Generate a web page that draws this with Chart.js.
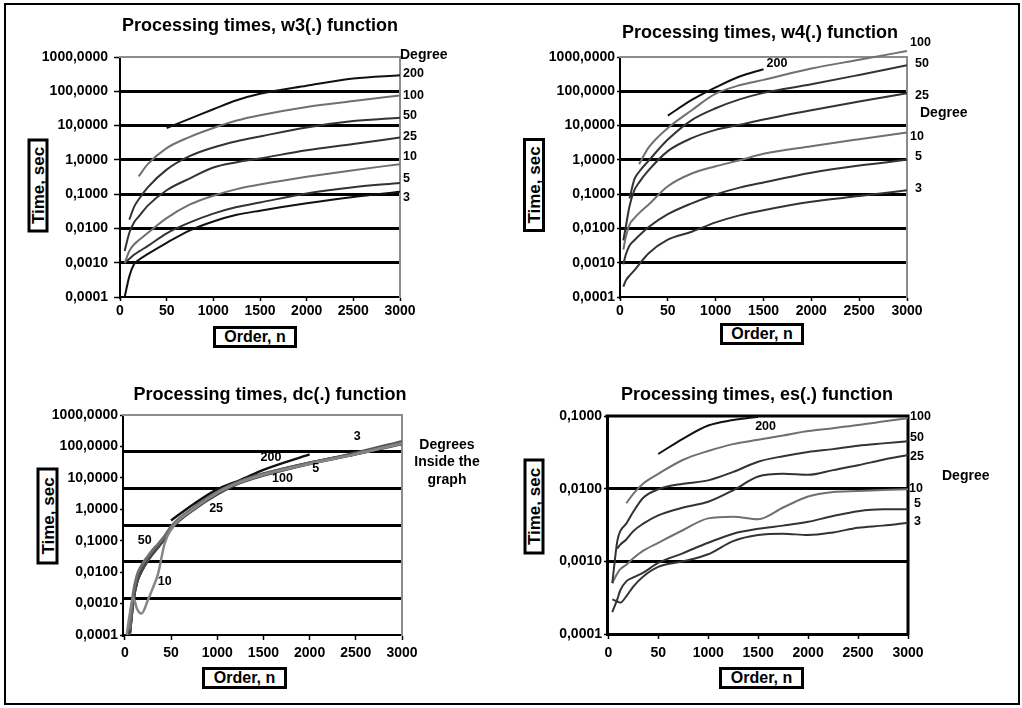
<!DOCTYPE html>
<html><head><meta charset="utf-8">
<script src="https://cdn.jsdelivr.net/npm/chart.js@4.4.1/dist/chart.umd.min.js"></script>
<style>
html,body{margin:0;padding:0;background:#fff;width:1022px;height:708px;overflow:hidden;}
#frame{position:absolute;left:4px;top:3px;width:1016px;height:702px;border:2.5px solid #000;box-sizing:border-box;}
canvas{position:absolute;}
.box{position:absolute;border:3px solid #000;box-sizing:border-box;background:#fff;font-family:'Liberation Sans',Arial,sans-serif;font-weight:bold;color:#000;display:flex;align-items:center;justify-content:center;white-space:nowrap;line-height:1;}
.rot{transform:rotate(-90deg);font-size:17px;}
.hor{font-size:16px;}
</style></head>
<body>
<div id="frame"></div>
<canvas id="c1" width="500" height="340" style="left:10px;top:10px"></canvas>
<canvas id="c2" width="500" height="340" style="left:510px;top:10px"></canvas>
<canvas id="c3" width="500" height="345" style="left:20px;top:355px"></canvas>
<canvas id="c4" width="500" height="345" style="left:507px;top:355px"></canvas>
<div class="box rot" style="left:-9px;top:175px;width:94px;height:21px">Time, sec</div>
<div class="box hor" style="left:213px;top:326px;width:84px;height:22px">Order, n</div>
<div class="box rot" style="left:487px;top:174px;width:94px;height:22px">Time, sec</div>
<div class="box hor" style="left:720px;top:323px;width:84px;height:22px">Order, n</div>
<div class="box rot" style="left:-1px;top:505px;width:97px;height:22px">Time, sec</div>
<div class="box hor" style="left:202px;top:667px;width:85px;height:22px">Order, n</div>
<div class="box rot" style="left:486px;top:496px;width:96px;height:21px">Time, sec</div>
<div class="box hor" style="left:719px;top:667px;width:85px;height:22px">Order, n</div>
<script>
// ---------- tick labels ----------
const xTickValues = [0, 500, 1000, 1500, 2000, 2500, 3000];
const xTickLabels = ['0', '50', '1000', '1500', '2000', '2500', '3000'];
const yDecadesWide = [0.0001, 0.001, 0.01, 0.1, 1, 10, 100, 1000];
const yLabelsWide = ['0,0001', '0,0010', '0,0100', '0,1000', '1,0000', '10,0000', '100,0000', '1000,0000'];
const yDecadesES = [0.0001, 0.001, 0.01, 0.1];
const yLabelsES = ['0,0001', '0,0010', '0,0100', '0,1000'];

// ---------- w3(.) ----------
const orderW3 = [50, 100, 150, 200, 300, 500, 750, 1000, 1250, 1500, 2000, 2500, 3000];
const w3Deg200 = [null, null, null, null, null, 8.5, 16, 30, 55, 85, 145, 235, 295];
const w3Deg100 = [null, null, null, 0.33, 0.76, 2.2, 4.7, 8.5, 14, 20, 35, 52, 76];
const w3Deg50 = [null, 0.018, 0.042, 0.07, 0.16, 0.52, 1.3, 2.3, 3.5, 4.8, 8.8, 13.5, 17];
const w3Deg25 = [0.0022, 0.0075, 0.015, 0.022, 0.047, 0.13, 0.29, 0.6, 0.85, 1.1, 1.9, 2.9, 4.5];
const w3Deg10 = [0.00098, 0.0022, 0.0034, 0.0045, 0.0075, 0.02, 0.05, 0.09, 0.14, 0.19, 0.32, 0.5, 0.75];
const w3Deg5 = [0.00098, 0.0013, 0.0017, 0.0021, 0.0031, 0.0072, 0.015, 0.027, 0.042, 0.057, 0.105, 0.16, 0.21];
const w3Deg3 = [0.0001, 0.0004, 0.0009, 0.0012, 0.0018, 0.0038, 0.0088, 0.016, 0.025, 0.033, 0.054, 0.083, 0.117];

// ---------- w4(.) ----------
const orderW4 = [35, 60, 100, 150, 200, 300, 500, 750, 1000, 1250, 1500, 2000, 2500, 3000];
const w4Deg200 = [null, null, null, null, null, null, 19.5, 56, 130, 270, 440, null, null, null];
const w4Deg100 = [null, null, null, null, 0.75, 2.3, 8.5, 28, 85, 150, 215, 460, 830, 1500];
const w4Deg50 = [null, null, 0.075, 0.27, 0.45, 0.95, 3.9, 14.5, 32, 58, 90, 160, 300, 575];
const w4Deg25 = [0.0045, 0.011, 0.045, 0.13, 0.22, 0.5, 1.8, 4.3, 7.5, 10.5, 15, 28, 50, 87];
const w4Deg10 = [0.0024, 0.0055, 0.013, 0.02, 0.028, 0.05, 0.17, 0.4, 0.65, 0.97, 1.5, 2.5, 4.0, 6.3];
const w4Deg5 = [0.0009, 0.0017, 0.0032, 0.0045, 0.0062, 0.011, 0.026, 0.054, 0.098, 0.155, 0.22, 0.42, 0.68, 1.0];
const w4Deg3 = [0.0002, 0.0003, 0.00042, 0.0006, 0.0009, 0.0019, 0.0047, 0.008, 0.015, 0.024, 0.034, 0.06, 0.088, 0.13];

// ---------- dc(.) ----------
const orderDC = [20, 50, 90, 130, 180, 250, 300, 360, 430, 500, 750, 1000, 1250, 1500, 2000, 2500, 3000];
const dcDeg3 = [null, 0.0001, 0.0012, 0.0048, 0.011, 0.024, 0.038, 0.063, 0.115, 0.24, 1.05, 3.3, 7.3, 12.5, 29, 62, 145];
const dcDeg5 = [null, 0.0001, 0.0013, 0.005, 0.011, 0.025, 0.04, 0.065, 0.12, 0.25, 1.1, 3.4, 7.5, 13, 30, 58, 120];
const dcDeg10 = [0.0001, 0.0004, 0.0016, 0.0007, 0.00048, 0.0013, 0.003, 0.009, 0.08, 0.23, 1.05, 3.3, 7.3, 12.5, 28, 57, 125];
const dcDeg25 = [null, 0.00012, 0.0014, 0.0052, 0.012, 0.026, 0.041, 0.066, 0.12, 0.25, 1.0, 3.0, 7.0, 12, 28, 57, 130];
const dcDeg50 = [null, 0.00015, 0.002, 0.0075, 0.016, 0.032, 0.05, 0.078, 0.14, 0.28, 1.15, 3.5, 7.6, 13, 29, 58, 128];
const dcDeg100 = [null, 0.0001, 0.0013, 0.005, 0.011, 0.025, 0.04, 0.065, 0.12, 0.26, 1.1, 3.5, 7.8, 13.5, 30, 59, 130];
const dcDeg200 = [null, null, null, null, null, null, null, null, null, 0.44, 1.5, 4.3, 8.5, 18, 56, null, null];

// ---------- es(.) ----------
const orderES = [40, 90, 120, 180, 250, 350, 500, 750, 1000, 1250, 1500, 1750, 2000, 2250, 2500, 2750, 3000];
const esDeg200 = [null, null, null, null, null, null, 0.030, 0.049, 0.074, 0.088, 0.098, null, null, null, null, null, null];
const esDeg100 = [null, null, null, 0.0063, 0.0085, 0.0118, 0.016, 0.025, 0.033, 0.041, 0.047, 0.054, 0.062, 0.068, 0.075, 0.084, 0.093];
const esDeg50 = [0.0005, 0.0019, 0.0026, 0.0033, 0.0048, 0.0075, 0.0098, 0.0117, 0.013, 0.017, 0.0235, 0.028, 0.032, 0.035, 0.039, 0.042, 0.045];
const esDeg25 = [null, 0.0015, 0.0017, 0.002, 0.0026, 0.0033, 0.0043, 0.0055, 0.0066, 0.0095, 0.0147, 0.016, 0.0155, 0.018, 0.021, 0.025, 0.029];
const esDeg10 = [0.0005, 0.00068, 0.00078, 0.0009, 0.0011, 0.0014, 0.0018, 0.0027, 0.0039, 0.0041, 0.0038, 0.0055, 0.0078, 0.009, 0.0093, 0.0096, 0.0098];
const esDeg5 = [0.0002, 0.0003, 0.0004, 0.00053, 0.0006, 0.0007, 0.00095, 0.0013, 0.0018, 0.0024, 0.0028, 0.0031, 0.0035, 0.0042, 0.0049, 0.0052, 0.0052];
const esDeg3 = [0.0003, 0.00028, 0.00027, 0.00033, 0.00045, 0.00062, 0.00084, 0.001, 0.00125, 0.0019, 0.0023, 0.0024, 0.0023, 0.0025, 0.0029, 0.0031, 0.0034];

// ---------- styling ----------
const FONT = "'Liberation Sans', Arial, sans-serif";
Chart.defaults.font.family = FONT;
Chart.defaults.color = '#000';
const BLACK = '#111111', DARK = '#333333', GRAY = '#707070';

const panelText = {
  id: 'panelText',
  beforeDatasetsDraw(chart, args, o) {
    const ctx = chart.ctx, a = chart.chartArea;
    if (o.frame) {
      ctx.save();
      ctx.strokeStyle = o.frame.color; ctx.lineWidth = o.frame.width; ctx.lineCap = 'square';
      ctx.beginPath();
      o.frame.sides.forEach(s => {
        if (s === 'top') { ctx.moveTo(a.left, a.top); ctx.lineTo(a.right, a.top); }
        if (s === 'right') { ctx.moveTo(a.right, a.top); ctx.lineTo(a.right, a.bottom); }
      });
      ctx.stroke();
      ctx.restore();
    }
  },
  afterDatasetsDraw(chart, args, o) {
    const ctx = chart.ctx, a = chart.chartArea;
    ctx.save();
    ctx.fillStyle = '#000';
    ctx.textBaseline = 'middle';
    if (o.title) {
      ctx.font = 'bold 18px ' + FONT;
      ctx.textAlign = 'center';
      ctx.fillText(o.title, chart.width / 2, o.titleY);
    }
    chart.data.datasets.forEach((ds, i) => {
      if (!ds.endLabel) return;
      const meta = chart.getDatasetMeta(i);
      const pt = meta.data[meta.data.length - 1];
      ctx.font = 'bold 12.5px ' + FONT;
      ctx.textAlign = 'left';
      ctx.fillText(ds.endLabel.text, pt.x + ds.endLabel.dx, pt.y + ds.endLabel.dy);
    });
    (o.texts || []).forEach(t => {
      ctx.font = 'bold ' + t.size + 'px ' + FONT;
      ctx.textAlign = t.align || 'left';
      ctx.fillText(t.text, a.right + t.dx, a.top + t.dy);
    });
    (o.dataTexts || []).forEach(t => {
      ctx.font = 'bold 12.5px ' + FONT;
      ctx.textAlign = 'center';
      ctx.fillText(t.text, chart.scales.x.getPixelForValue(t.n), chart.scales.y.getPixelForValue(t.t));
    });
    ctx.restore();
  }
};
Chart.register(panelText);

function series(order, values, label, color, width, endLabel, extra) {
  return Object.assign({
    label: label,
    data: order.map((n, i) => ({ x: n, y: values[i] })).filter(p => p.y !== null),
    borderColor: color, borderWidth: width, pointRadius: 0, fill: false,
    cubicInterpolationMode: 'monotone', yAxisID: 'y', endLabel: endLabel
  }, extra || {});
}

function xScale(min, max, tickLen, pad, height, borderW) {
  return {
    type: 'linear', min: min, max: max,
    afterBuildTicks: s => { s.ticks = xTickValues.map(v => ({ value: v })); },
    afterFit: s => { s.height = height; },
    ticks: { callback: (v, i) => xTickLabels[i], font: { size: 14, weight: 'bold' }, color: '#000', padding: pad, maxRotation: 0, autoSkip: false },
    grid: { drawOnChartArea: false, drawTicks: true, tickLength: tickLen, tickColor: '#000', tickWidth: 1.5 },
    border: { display: true, color: '#000', width: borderW }
  };
}

function yScale(decades, labels, tickLen, pad, width, gridOn, borderW) {
  const lo = decades[0], hi = decades[decades.length - 1];
  return {
    type: 'logarithmic', min: lo, max: hi,
    afterBuildTicks: s => { s.ticks = decades.map(v => ({ value: v })); },
    afterFit: s => { s.width = width; },
    ticks: { callback: (v, i) => labels[i], font: { size: 14, weight: 'bold' }, color: '#000', padding: pad, autoSkip: false },
    grid: {
      drawOnChartArea: gridOn,
      color: c => (c.tick && (c.tick.value === lo || c.tick.value === hi)) ? 'rgba(0,0,0,0)' : '#000',
      lineWidth: 3, tickLength: tickLen, tickColor: '#000', tickWidth: 1.5
    },
    border: { display: true, color: '#000', width: borderW }
  };
}

function baseOptions(padding, scales, textOpts) {
  return {
    responsive: false, animation: false,
    layout: { padding: padding },
    scales: scales,
    plugins: { legend: { display: false }, tooltip: { enabled: false }, title: { display: false }, panelText: textOpts }
  };
}

// ---------- Panel 1: w3 ----------
new Chart(document.getElementById('c1'), {
  type: 'line',
  data: { datasets: [
    series(orderW3, w3Deg200, '200', BLACK, 2, { text: '200', dx: 3, dy: -2 }),
    series(orderW3, w3Deg100, '100', GRAY, 2, { text: '100', dx: 3, dy: 0 }),
    series(orderW3, w3Deg50, '50', DARK, 2, { text: '50', dx: 3, dy: -2 }),
    series(orderW3, w3Deg25, '25', DARK, 2, { text: '25', dx: 3, dy: -1 }),
    series(orderW3, w3Deg10, '10', GRAY, 2, { text: '10', dx: 3, dy: -8 }),
    series(orderW3, w3Deg5, '5', DARK, 2, { text: '5', dx: 3, dy: -5 }),
    series(orderW3, w3Deg3, '3', BLACK, 2, { text: '3', dx: 3, dy: 6 })
  ] },
  options: baseOptions({ left: 0, top: 47, right: 110, bottom: 0 },
    { x: xScale(0, 3000, 4, 2, 53, 2), y: yScale(yDecadesWide, yLabelsWide, 6, 6, 110, true, 2) },
    { title: 'Processing times, w3(.) function', titleY: 16,
      frame: { color: '#8c8c8c', width: 2, sides: ['top', 'right'] },
      texts: [{ text: 'Degree', dx: 0, dy: -2, size: 14 }] })
});

// ---------- Panel 2: w4 ----------
new Chart(document.getElementById('c2'), {
  type: 'line',
  data: { datasets: [
    series(orderW4, w4Deg200, '200', BLACK, 2, { text: '200', dx: 3, dy: -6 }),
    series(orderW4, w4Deg100, '100', GRAY, 2, { text: '100', dx: 3, dy: -8 }, { clip: false }),
    series(orderW4, w4Deg50, '50', DARK, 2, { text: '50', dx: 8, dy: -2 }),
    series(orderW4, w4Deg25, '25', DARK, 2, { text: '25', dx: 8, dy: 2 }),
    series(orderW4, w4Deg10, '10', GRAY, 2, { text: '10', dx: 3, dy: 4 }),
    series(orderW4, w4Deg5, '5', DARK, 2, { text: '5', dx: 8, dy: -3 }),
    series(orderW4, w4Deg3, '3', DARK, 2, { text: '3', dx: 8, dy: -2 })
  ] },
  options: baseOptions({ left: 0, top: 47, right: 103, bottom: 0 },
    { x: xScale(0, 3000, 4, 2, 53, 2), y: yScale(yDecadesWide, yLabelsWide, 3, 2, 110, true, 2) },
    { title: 'Processing times, w4(.) function', titleY: 23,
      frame: { color: '#8c8c8c', width: 2, sides: ['top', 'right'] },
      texts: [{ text: 'Degree', dx: 13, dy: 56, size: 14 }] })
});

// ---------- Panel 3: dc ----------
new Chart(document.getElementById('c3'), {
  type: 'line',
  data: { datasets: [
    series(orderDC, dcDeg10, '10', '#858585', 2.5, null),
    series(orderDC, dcDeg50, '50', '#6e6e6e', 3, null),
    series(orderDC, dcDeg25, '25', '#454545', 3, null),
    series(orderDC, dcDeg100, '100', '#505050', 3, null),
    series(orderDC, dcDeg5, '5', '#3c3c3c', 3, null),
    series(orderDC, dcDeg3, '3', '#585858', 3, null),
    series(orderDC, dcDeg200, '200', BLACK, 2.5, null)
  ] },
  options: baseOptions({ left: 0, top: 60, right: 118, bottom: 0 },
    { x: xScale(-20, 3000, 5, 5, 65, 2),
      y: yScale(yDecadesWide, yLabelsWide, 3, 2, 103, false, 2),
      yg: { type: 'linear', position: 'right', min: 0, max: 6,
        afterFit: s => { s.width = 0; },
        ticks: { display: false, stepSize: 1 },
        border: { display: false },
        grid: { drawTicks: false, lineWidth: 3,
          color: c => (c.tick && (c.tick.value === 0 || c.tick.value === 6)) ? 'rgba(0,0,0,0)' : '#000' } } },
    { title: 'Processing times, dc(.) function', titleY: 40,
      frame: { color: '#8c8c8c', width: 2, sides: ['top', 'right'] },
      texts: [
        { text: 'Degrees', dx: 45, dy: 30, size: 14, align: 'center' },
        { text: 'Inside the', dx: 45, dy: 47, size: 14, align: 'center' },
        { text: 'graph', dx: 45, dy: 65, size: 14, align: 'center' }
      ],
      dataTexts: [
        { text: '3', n: 2515, t: 205 },
        { text: '200', n: 1581, t: 44 },
        { text: '5', n: 2066, t: 20 },
        { text: '100', n: 1707, t: 9.8 },
        { text: '25', n: 988, t: 1.02 },
        { text: '50', n: 216, t: 0.105 },
        { text: '10', n: 431, t: 0.005 }
      ] })
});

// ---------- Panel 4: es ----------
new Chart(document.getElementById('c4'), {
  type: 'line',
  data: { datasets: [
    series(orderES, esDeg200, '200', BLACK, 2, { text: '200', dx: -3, dy: 10 }),
    series(orderES, esDeg100, '100', GRAY, 2, { text: '100', dx: 2, dy: -2 }),
    series(orderES, esDeg50, '50', DARK, 2, { text: '50', dx: 2, dy: -4 }),
    series(orderES, esDeg25, '25', DARK, 2, { text: '25', dx: 2, dy: 1 }),
    series(orderES, esDeg10, '10', GRAY, 2, { text: '10', dx: 1, dy: -1 }),
    series(orderES, esDeg5, '5', DARK, 2, { text: '5', dx: 6, dy: -6 }),
    series(orderES, esDeg3, '3', DARK, 2, { text: '3', dx: 6, dy: -1 })
  ] },
  options: baseOptions({ left: 0, top: 61, right: 99, bottom: 0 },
    { x: xScale(-13, 3000, 5, 6, 66, 3), y: yScale(yDecadesES, yLabelsES, 3, 2, 100, true, 3) },
    { title: 'Processing times, es(.) function', titleY: 40,
      frame: { color: '#000', width: 3, sides: ['top', 'right'] },
      texts: [{ text: 'Degree', dx: 34, dy: 60, size: 14 }] })
});
</script>
</body></html>
